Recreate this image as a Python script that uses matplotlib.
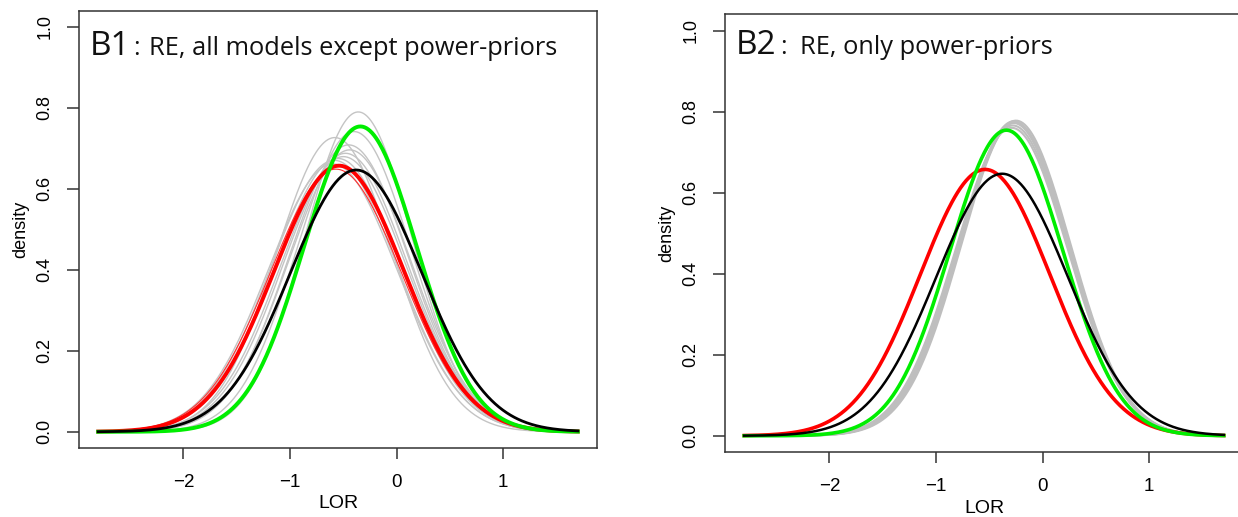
import numpy as np
import matplotlib
matplotlib.use("Agg")
import matplotlib.pyplot as plt

# posterior densities of the LOR as (mean, sd) of normal curves
red_mean, red_sd = -0.54, 0.607
green_mean, green_sd = -0.34, 0.529
black_mean, black_sd = -0.38, 0.617

# B1: extra thin red curve and grey model curves
red_b1_means = [-0.57]
red_b1_sds = [0.615]
grey_b1_means = [-0.36, -0.40, -0.58, -0.45, -0.48, -0.50, -0.585, -0.55, -0.60, -0.44]
grey_b1_sds = [0.505, 0.538, 0.549, 0.563, 0.580, 0.587, 0.595, 0.591, 0.603, 0.573]

# B2: grey power-prior curves
grey_b2_means = [-0.27, -0.26, -0.28, -0.25, -0.29, -0.27]
grey_b2_sds = [0.514, 0.516, 0.521, 0.513, 0.525, 0.517]

x_from, x_to = -2.8, 1.7
y_ticks = [0.0, 0.2, 0.4, 0.6, 0.8, 1.0]
x_ticks = [-2, -1, 0, 1]

panel_titles = ["B1", "B2"]
panel_texts = ["RE, all models except power-priors", "RE, only power-priors"]

W, H = 1238, 517
LAB = ["Liberation Sans", "Arial", "DejaVu Sans"]


def dnorm(x, m, s):
    return np.exp(-0.5 * ((x - m) / s) ** 2) / (s * np.sqrt(2 * np.pi))


def setup(ax):
    ax.set_xlim(-2.98, 1.88)
    ax.set_ylim(-0.04, 1.04)
    ax.set_yticks(y_ticks)
    ax.set_yticklabels(["%.1f" % v for v in y_ticks], rotation=90, va="center",
                       family=LAB, fontsize=13)
    ax.set_xticks(x_ticks)
    ax.set_xticklabels(["\u2212%d" % -v if v < 0 else "%d" % v for v in x_ticks],
                       family=LAB, fontsize=13.5)
    ax.tick_params(axis="y", length=8.5, width=1.1, pad=10, color="#333333")
    ax.tick_params(axis="x", length=8, width=1.1, pad=11, color="#333333")
    for sp in ax.spines.values():
        sp.set_linewidth(1.1)
        sp.set_color("#333333")
    ax.set_xlabel("LOR", family=LAB, fontsize=14, va="center")
    ax.set_ylabel("density", family=LAB, fontsize=13, va="center")
    ax.xaxis.set_label_coords(0.5, -56 / 437.3)
    ax.yaxis.set_label_coords(-58 / 518, 0.5)


fig = plt.figure(figsize=(W / 100, H / 100), dpi=100)
ax1 = fig.add_axes([79 / W, (H - 448) / H, 518 / W, 437.3 / H])
ax2 = fig.add_axes([725 / W, (H - 452) / H, 518 / W, 437.7 / H])

x = np.linspace(x_from, x_to, 500)

# panel B1
for m, s in zip(grey_b1_means, grey_b1_sds):
    ax1.plot(x, dnorm(x, m, s), color="#c4c4c4", lw=1.0)
for m, s in zip(red_b1_means, red_b1_sds):
    ax1.plot(x, dnorm(x, m, s), color="#ff3030", lw=0.8)
ax1.plot(x, dnorm(x, red_mean, red_sd), color="#ff0000", lw=2.8)
ax1.plot(x, dnorm(x, green_mean, green_sd), color="#00ee00", lw=2.8)
ax1.plot(x, dnorm(x, black_mean, black_sd), color="black", lw=2.0)

# panel B2
for m, s in zip(grey_b2_means, grey_b2_sds):
    ax2.plot(x, dnorm(x, m, s), color="#bebebe", lw=1.5)
ax2.plot(x, dnorm(x, red_mean, red_sd), color="#ff0000", lw=2.6)
ax2.plot(x, dnorm(x, green_mean, green_sd), color="#00ee00", lw=2.6)
ax2.plot(x, dnorm(x, black_mean, black_sd), color="black", lw=1.8)

setup(ax1)
setup(ax2)

# panel headings
head = dict(family=["Open Sans", "DejaVu Sans"], va="baseline", color="#111111")
for (bx, cx, tx, by), tag, txt in zip([(90, 133, 149, 55), (736, 780, 800, 54)],
                                      panel_titles, panel_texts):
    fig.text(bx / W, 1 - by / H, tag, fontsize=24, **head)
    fig.text(cx / W, 1 - by / H, ":", fontsize=18, **head)
    fig.text(tx / W, 1 - by / H, txt, fontsize=18.3, **head)

fig.savefig("out.png", dpi=100)
